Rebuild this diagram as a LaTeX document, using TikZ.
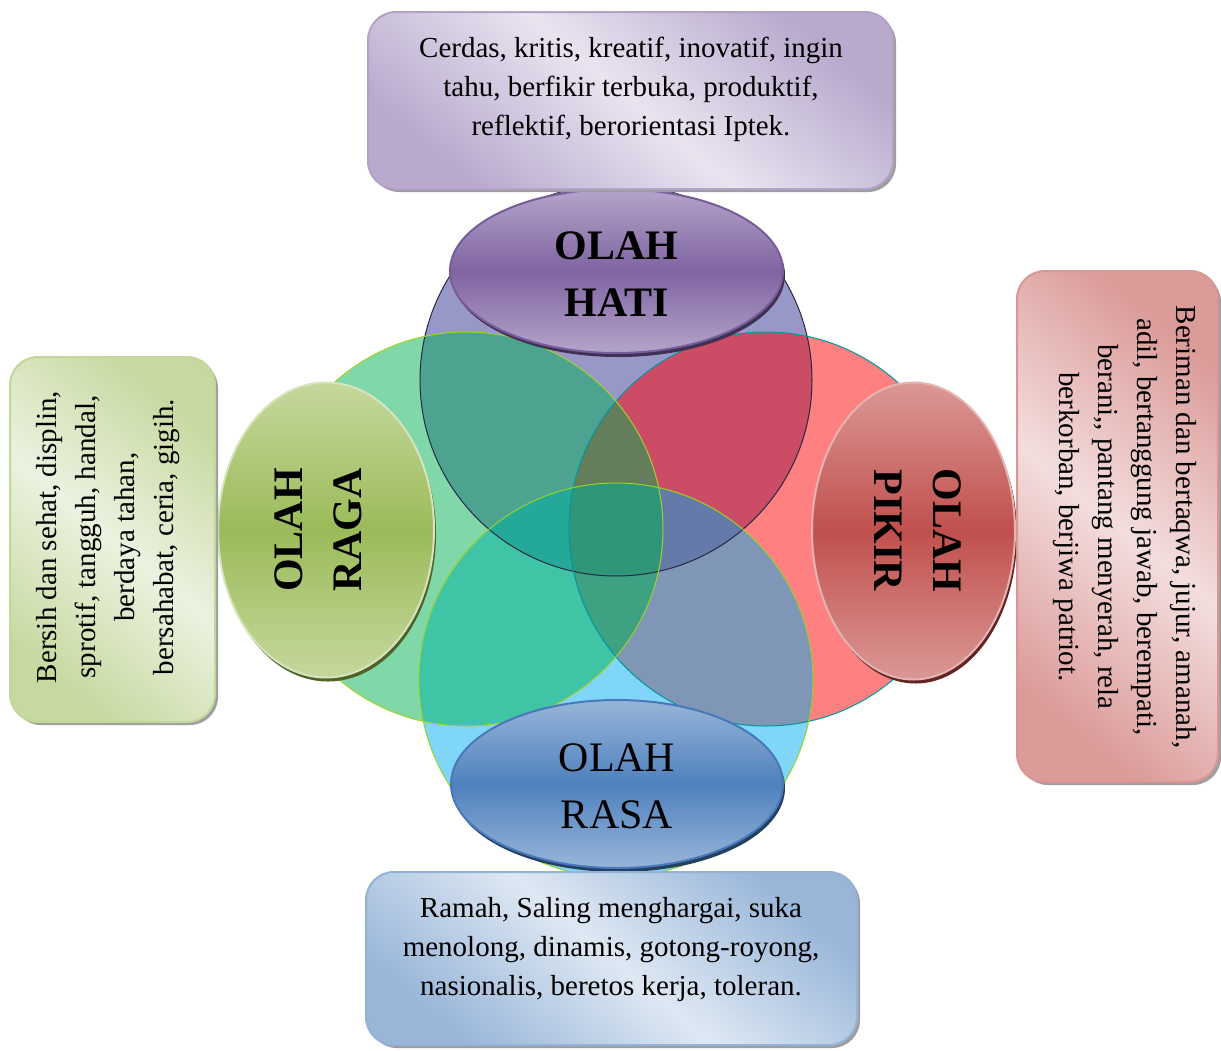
\documentclass[tikz,border=0pt]{standalone}
\usepackage{fontspec}
\setmainfont{Liberation Serif}
\usetikzlibrary{shapes.geometric,shadows}

\definecolor{colT}{RGB}{152,152,200}
\definecolor{colL}{RGB}{128,216,168}
\definecolor{colR}{RGB}{255,128,128}
\definecolor{colB}{RGB}{128,214,248}
\definecolor{colTL}{RGB}{76,164,144}
\definecolor{colTR}{RGB}{204,76,102}
\definecolor{colLB}{RGB}{64,196,166}
\definecolor{colRB}{RGB}{128,150,182}
\definecolor{colTLR}{RGB}{100,125,90}
\definecolor{colTLB}{RGB}{36,168,152}
\definecolor{colTRB}{RGB}{100,122,168}
\definecolor{colLRB}{RGB}{62,162,130}
\definecolor{colTLRB}{RGB}{48,150,122}
\definecolor{lnT}{RGB}{40,40,70}
\definecolor{lnL}{RGB}{160,210,40}
\definecolor{lnR}{RGB}{0,150,160}
\definecolor{lnB}{RGB}{150,210,40}

\definecolor{hatiLt}{RGB}{180,164,201}
\definecolor{hatiDk}{RGB}{128,100,162}
\definecolor{hatiSh}{RGB}{63,49,81}
\definecolor{hatiLn}{RGB}{118,92,155}
\definecolor{ragaLt}{RGB}{197,216,157}
\definecolor{ragaDk}{RGB}{155,187,89}
\definecolor{ragaSh}{RGB}{79,98,40}
\definecolor{ragaLn}{RGB}{215,228,190}
\definecolor{pikirLt}{RGB}{219,152,150}
\definecolor{pikirDk}{RGB}{192,80,77}
\definecolor{pikirSh}{RGB}{99,37,35}
\definecolor{pikirLn}{RGB}{228,180,179}
\definecolor{rasaLt}{RGB}{151,181,217}
\definecolor{rasaDk}{RGB}{79,129,189}
\definecolor{rasaSh}{RGB}{36,64,97}
\definecolor{rasaLn}{RGB}{72,120,185}

\definecolor{boxPLt}{RGB}{233,228,240}
\definecolor{boxPDk}{RGB}{184,169,205}
\definecolor{boxPLn}{RGB}{178,162,199}
\definecolor{boxGLt}{RGB}{236,242,224}
\definecolor{boxGDk}{RGB}{198,217,160}
\definecolor{boxGLn}{RGB}{195,214,155}
\definecolor{boxRLt}{RGB}{243,222,221}
\definecolor{boxRDk}{RGB}{219,155,153}
\definecolor{boxRLn}{RGB}{217,150,148}
\definecolor{boxBLt}{RGB}{222,232,243}
\definecolor{boxBDk}{RGB}{153,182,217}
\definecolor{boxBLn}{RGB}{149,179,215}

\tikzset{
  olahshape/.style n args={4}{ellipse, inner sep=0pt, draw=#4, line width=1.5pt,
    top color=#1, bottom color=#1, middle color=#2,
    drop shadow={shadow xshift=1.5pt, shadow yshift=-3pt, fill=#3, opacity=1}},
  olahbold/.style={align=center, inner sep=0pt, font=\fontsize{31.5pt}{42.75pt}\selectfont\bfseries},
  olahplain/.style={align=center, inner sep=0pt, font=\fontsize{31.5pt}{42.75pt}\selectfont},
  olahside/.style={align=center, inner sep=0pt, font=\fontsize{31.5pt}{44pt}\selectfont\bfseries},
  boxstyle/.style n args={3}{rectangle, rounded corners=21pt, inner sep=0pt, draw=#3, line width=1.5pt,
    top color=#2, bottom color=#2, middle color=#1, shading angle=-40,
    drop shadow={shadow xshift=2.25pt, shadow yshift=-2.25pt, fill=black!38, opacity=1}},
  boxtext/.style={align=center, inner sep=0pt, font=\fontsize{21.75pt}{29.25pt}\selectfont},
  vennline/.style={line width=0.75pt}
}

\begin{document}
\begin{tikzpicture}[x=0.75pt,y=-0.75pt]
\useasboundingbox (0,0) rectangle (1221,1050);
\fill[white] (0,0) rectangle (1221,1050);

\coordinate (cT) at (616,380);
\coordinate (cL) at (466,529);
\coordinate (cR) at (766,529);
\coordinate (cB) at (616,680);
\def\rr{197}
\def\rt{196}

% single regions
\fill[colT] (cT) circle[radius=\rt];
\fill[colL] (cL) circle[radius=\rr];
\fill[colR] (cR) circle[radius=\rr];
\fill[colB] (cB) circle[radius=\rr];
% pairs
\begin{scope}\clip (cT) circle[radius=\rt]; \fill[colTL] (cL) circle[radius=\rr]; \end{scope}
\begin{scope}\clip (cT) circle[radius=\rt]; \fill[colTR] (cR) circle[radius=\rr]; \end{scope}
\begin{scope}\clip (cL) circle[radius=\rr]; \fill[colLB] (cB) circle[radius=\rr]; \end{scope}
\begin{scope}\clip (cR) circle[radius=\rr]; \fill[colRB] (cB) circle[radius=\rr]; \end{scope}
% triples
\begin{scope}\clip (cT) circle[radius=\rt]; \clip (cL) circle[radius=\rr]; \fill[colTLR] (cR) circle[radius=\rr]; \end{scope}
\begin{scope}\clip (cT) circle[radius=\rt]; \clip (cL) circle[radius=\rr]; \fill[colTLB] (cB) circle[radius=\rr]; \end{scope}
\begin{scope}\clip (cT) circle[radius=\rt]; \clip (cR) circle[radius=\rr]; \fill[colTRB] (cB) circle[radius=\rr]; \end{scope}
\begin{scope}\clip (cL) circle[radius=\rr]; \clip (cR) circle[radius=\rr]; \fill[colLRB] (cB) circle[radius=\rr]; \end{scope}
% all four
\begin{scope}\clip (cT) circle[radius=\rt]; \clip (cL) circle[radius=\rr]; \clip (cR) circle[radius=\rr]; \fill[colTLRB] (cB) circle[radius=\rr]; \end{scope}
% outlines
\draw[vennline, lnT] (cT) circle[radius=\rt];
\draw[vennline, lnR] (cR) circle[radius=\rr];
\draw[vennline, lnB] (cB) circle[radius=\rr];
\draw[vennline, lnL] (cL) circle[radius=\rr];

% ellipses
\node[olahshape={hatiLt}{hatiDk}{hatiSh}{hatiLn}, minimum width=249.75pt, minimum height=123pt] (hati) at (616.5,271) {};
\node[olahbold] (hatiTxt) at (616.5,274.5) {OLAH\\HATI};

\node[olahshape={ragaLt}{ragaDk}{ragaSh}{ragaLn}, minimum width=162pt, minimum height=221.25pt] (raga) at (326,530) {};
\node[olahside, rotate=90] (ragaTxt) at (318,530) {OLAH\\RAGA};

\node[olahshape={pikirLt}{pikirDk}{pikirSh}{pikirLn}, minimum width=152.25pt, minimum height=222.75pt] (pikir) at (913.5,531) {};
\node[olahside, rotate=-90] (pikirTxt) at (918,530.5) {OLAH\\PIKIR};

\node[olahshape={rasaLt}{rasaDk}{rasaSh}{rasaLn}, minimum width=249pt, minimum height=126pt] (rasa) at (617,784) {};
\node[olahplain] (rasaTxt) at (617,786) {OLAH\\RASA};

% boxes
\node[boxstyle={boxPLt}{boxPDk}{boxPLn}, minimum width=393.75pt, minimum height=132.75pt] (hatiBox) at (630.5,100.5) {};
\node[boxtext] (hatiBoxTxt) at (631,89) {Cerdas, kritis, kreatif, inovatif, ingin\\tahu, berfikir terbuka, produktif,\\reflektif, berorientasi Iptek.};

\node[boxstyle={boxGLt}{boxGDk}{boxGLn}, minimum width=153.75pt, minimum height=273.75pt] (ragaBox) at (112.5,539.5) {};
\node[boxtext, rotate=90] (ragaBoxTxt) at (108,537) {Bersih dan sehat, displin,\\sprotif, tangguh, handal,\\berdaya tahan,\\bersahabat, ceria, gigih.};

\node[boxstyle={boxRLt}{boxRDk}{boxRLn}, minimum width=150.75pt, minimum height=383.25pt] (pikirBox) at (1117.5,526.5) {};
\node[boxtext, rotate=-90] (pikirBoxTxt) at (1125,527) {Beriman dan bertaqwa, jujur, amanah,\\adil, bertanggung jawab, berempati,\\berani,\kern0pt, pantang menyerah, rela\\berkorban, berjiwa patriot.};

\node[boxstyle={boxBLt}{boxBDk}{boxBLn}, minimum width=368.25pt, minimum height=129.75pt] (rasaBox) at (611.5,958.5) {};
\node[boxtext] (rasaBoxTxt) at (611,950) {Ramah, Saling menghargai, suka\\menolong, dinamis, gotong-royong,\\nasionalis, beretos kerja, toleran.};
\end{tikzpicture}
\end{document}
